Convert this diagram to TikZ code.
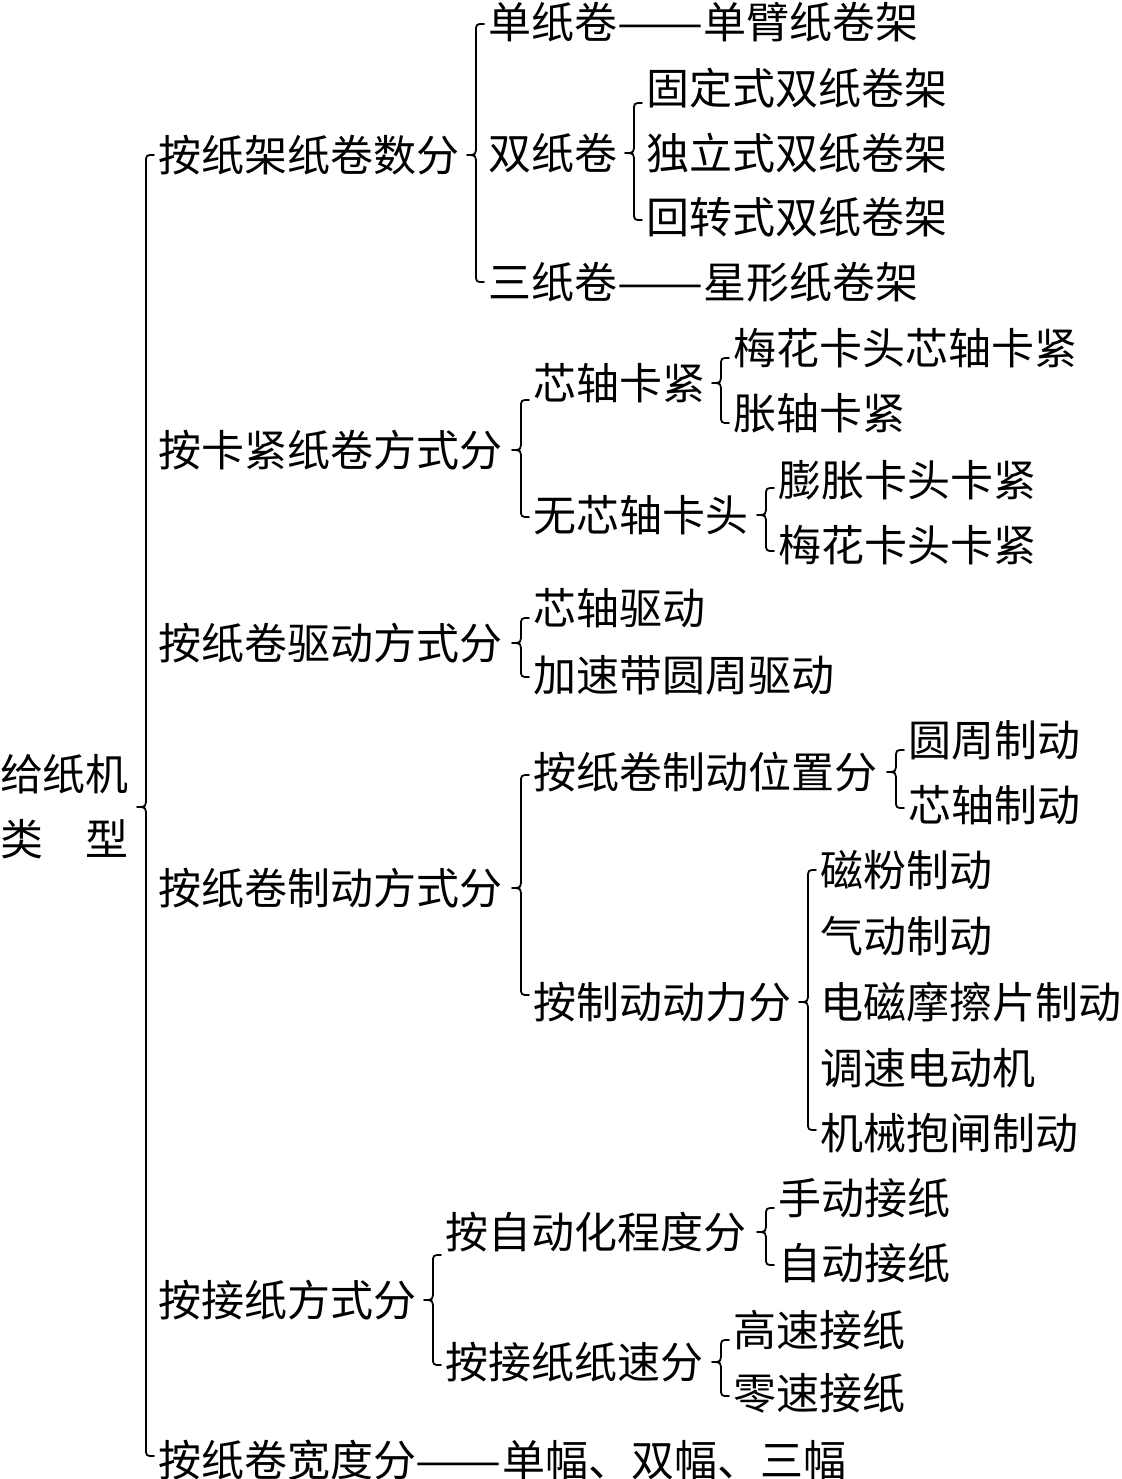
\documentclass[tikz,border=0pt]{standalone}
\usepackage{fontspec}
\usepackage{graphicx}
\setmainfont{Noto Sans CJK SC}
\usetikzlibrary{calc}
\newcommand\longdash{\resizebox{2em}{\height}{——}}
\tikzset{
  t/.style={anchor=base west, inner sep=0pt, outer sep=0pt, yshift=-8pt,
    font=\fontsize{21.5pt}{32.5pt}\selectfont},
  rootnode/.style={anchor=west, inner sep=0pt, outer sep=0pt, align=left,
    font=\fontsize{21.5pt}{32.5pt}\selectfont},
  brc/.style={line width=0.9pt, line cap=round, line join=round}
}
% #1 parent point, #2 first child, #3 last child, #4 top offset (px, down), #5 bottom offset (px, down)
\newcommand\bracefrom[5]{%
  \draw[brc] let \p1=(#2.base west), \p2=(#3.base west), \p3=#1 in
    ({\x1-2pt}, {\y1+8pt-#4*0.5pt})
    .. controls ({\x1-6pt}, {\y1+8pt-#4*0.5pt}) .. ({\x1-6pt}, {\y1+4pt-#4*0.5pt})
    -- ({\x1-6pt}, {\y3+5pt})
    .. controls ({\x1-6pt}, {\y3}) .. ({\x1-10.5pt}, {\y3})
    .. controls ({\x1-6pt}, {\y3}) .. ({\x1-6pt}, {\y3-5pt})
    -- ({\x1-6pt}, {\y2+12pt-#5*0.5pt})
    .. controls ({\x1-6pt}, {\y2+8pt-#5*0.5pt}) .. ({\x1-2pt}, {\y2+8pt-#5*0.5pt});
}
\begin{document}
\begin{tikzpicture}[x=0.5pt, y=-0.5pt]
\useasboundingbox (0,0) rectangle (1121,1479);

\node[rootnode] (root) at (0,807) {给纸机\\类　型};

\node[t] (a) at (158,155) {按纸架纸卷数分};
\node[t] (a1) at (488,22) {单纸卷\longdash 单臂纸卷架};
\node[t] (a2) at (488,153) {双纸卷};
\node[t] (a3) at (488,282) {三纸卷\longdash 星形纸卷架};
\node[t] (a21) at (646,88) {固定式双纸卷架};
\node[t] (a22) at (646,153) {独立式双纸卷架};
\node[t] (a23) at (646,217) {回转式双纸卷架};

\node[t] (b) at (158,450) {按卡紧纸卷方式分};
\node[t] (b1) at (533,383) {芯轴卡紧};
\node[t] (b2) at (533,515) {无芯轴卡头};
\node[t] (b11) at (733,348) {梅花卡头芯轴卡紧};
\node[t] (b12) at (733,413) {胀轴卡紧};
\node[t] (b21) at (778,480) {膨胀卡头卡紧};
\node[t] (b22) at (778,545) {梅花卡头卡紧};

\node[t] (c) at (158,643) {按纸卷驱动方式分};
\node[t] (c1) at (533,608) {芯轴驱动};
\node[t] (c2) at (533,675) {加速带圆周驱动};

\node[t] (d) at (158,888) {按纸卷制动方式分};
\node[t] (d1) at (533,772) {按纸卷制动位置分};
\node[t] (d2) at (533,1002) {按制动动力分};
\node[t] (d11) at (908,740) {圆周制动};
\node[t] (d12) at (908,805) {芯轴制动};
\node[t] (d21) at (820,870) {磁粉制动};
\node[t] (d22) at (820,936) {气动制动};
\node[t] (d23) at (820,1002) {电磁摩擦片制动};
\node[t] (d24) at (820,1068) {调速电动机};
\node[t] (d25) at (820,1133) {机械抱闸制动};

\node[t] (e) at (158,1300) {按接纸方式分};
\node[t] (e1) at (445,1232) {按自动化程度分};
\node[t] (e2) at (445,1362) {按接纸纸速分};
\node[t] (e11) at (778,1198) {手动接纸};
\node[t] (e12) at (778,1263) {自动接纸};
\node[t] (e21) at (733,1330) {高速接纸};
\node[t] (e22) at (733,1393) {零速接纸};

\node[t] (f) at (158,1460) {按纸卷宽度分\longdash 单幅、双幅、三幅};

\bracefrom{(root.east)}{a}{f}{0}{(-4)}
\bracefrom{([yshift=8pt]a.base east)}{a1}{a3}{2}{0}
\bracefrom{([yshift=8pt]a2.base east)}{a21}{a23}{15}{3}
\bracefrom{([yshift=8pt]b.base east)}{b1}{b2}{17}{2}
\bracefrom{([yshift=8pt]b1.base east)}{b11}{b12}{10}{10}
\bracefrom{([yshift=8pt]b2.base east)}{b21}{b22}{8}{6}
\bracefrom{([yshift=8pt]c.base east)}{c1}{c2}{10}{2}
\bracefrom{([yshift=8pt]d.base east)}{d1}{d2}{3}{(-7)}
\bracefrom{([yshift=8pt]d1.base east)}{d11}{d12}{10}{3}
\bracefrom{([yshift=8pt]d2.base east)}{d21}{d25}{0}{(-3)}
\bracefrom{([yshift=8pt]e.base east)}{e1}{e2}{23}{3}
\bracefrom{([yshift=8pt]e1.base east)}{e11}{e12}{10}{2}
\bracefrom{([yshift=8pt]e2.base east)}{e21}{e22}{10}{3}
\end{tikzpicture}
\end{document}
